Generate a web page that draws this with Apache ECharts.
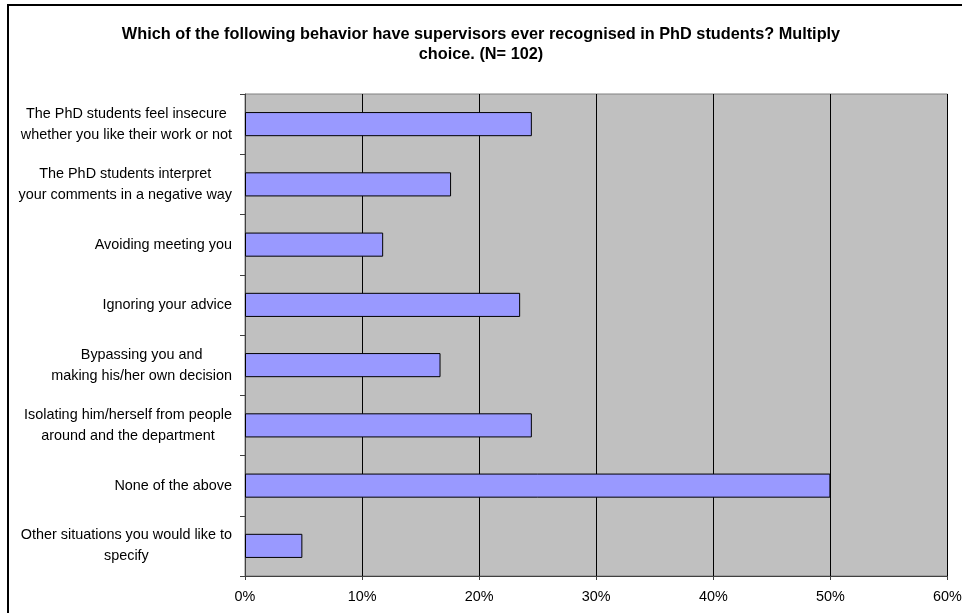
<!DOCTYPE html>
<html>
<head>
<meta charset="utf-8">
<script src="https://cdn.jsdelivr.net/npm/echarts@6/dist/echarts.min.js"></script>
<style>
html,body{margin:0;padding:0;background:#fff;}
#chart{width:962px;height:613px;}
</style>
</head>
<body>
<div id="chart"></div>
<script>
var titleText = "Which of the following behavior have supervisors ever recognised in PhD students? Multiply\nchoice. (N= 102)";
var categories = [
  "The PhD students feel insecure\nwhether you like their work or not",
  "The PhD students interpret\nyour comments in a negative way",
  "Avoiding meeting you",
  "Ignoring your advice",
  "Bypassing you and\nmaking his/her own decision",
  "Isolating him/herself from people\naround and the department",
  "None of the above",
  "Other situations you would like to\nspecify"
];
var values = [24.5, 17.6, 11.8, 23.5, 16.7, 24.5, 50.0, 4.9];
var xTicks = [0, 10, 20, 30, 40, 50, 60];

var FONT = "Liberation Sans, Arial, sans-serif";
var LF = 14.4;
var chart = echarts.init(document.getElementById('chart'), null, {renderer: 'canvas'});
chart.setOption({
  backgroundColor: '#ffffff',
  animation: false,
  graphic: [{
    type: 'rect', silent: true,
    shape: {x: 8, y: 5, width: 1000, height: 700},
    style: {fill: 'none', stroke: '#000', lineWidth: 2}
  }, {
    type: 'text', silent: true,
    x: 481, y: 25,
    style: {
      text: titleText, align: 'center', verticalAlign: 'top',
      font: 'bold 16.3px ' + FONT, lineHeight: 20, fill: '#000'
    }
  }],
  grid: {
    left: 245, right: 14.5, top: 94, bottom: 37,
    show: true, backgroundColor: '#C0C0C0', borderColor: '#808080', borderWidth: 1,
    containLabel: false, outerBoundsMode: 'none'
  },
  xAxis: {
    type: 'value', min: xTicks[0], max: xTicks[xTicks.length - 1], interval: 10,
    axisLine: {show: true, lineStyle: {color: '#404040', width: 1}},
    axisTick: {show: true, length: 4, lineStyle: {color: '#404040'}},
    axisLabel: {margin: 14, fontFamily: FONT, fontSize: LF, color: '#000',
      formatter: function (v) { return v + '%'; }},
    splitLine: {show: true, lineStyle: {color: '#000', width: 1}}
  },
  yAxis: {
    type: 'category', data: categories, inverse: true,
    axisLine: {show: true, lineStyle: {color: '#404040', width: 1}},
    axisTick: {show: true, length: 5, alignWithLabel: false, lineStyle: {color: '#404040'}},
    axisLabel: {
      margin: 13, fontFamily: FONT, fontSize: LF, color: '#000', lineHeight: 21,
      formatter: function (v) {
        return v.split('\n').map(function (l) { return '{c|' + l + '}'; }).join('\n');
      },
      rich: {c: {align: 'center', fontFamily: FONT, fontSize: LF, lineHeight: 21, color: '#000'}}
    },
    splitLine: {show: false}
  },
  series: [{
    type: 'bar', data: values, barCategoryGap: '60%',
    itemStyle: {color: '#9999FF', borderColor: '#000', borderWidth: 1},
    label: {show: false}
  }]
});
</script>
</body>
</html>
